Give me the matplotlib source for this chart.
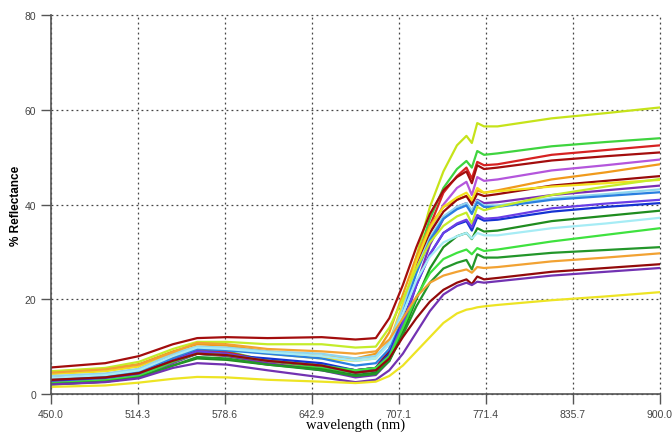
import matplotlib
matplotlib.use('Agg')
import matplotlib.pyplot as plt

# wavelengths (nm) at which the reflectance of each curve was read
wl = [450, 490, 515, 540, 558, 580, 610, 650, 675, 690,
      700, 710, 720, 730, 740, 750,
      757, 761, 765, 770, 780,
      820, 860, 900]

# % reflectance, one list per sample
r01 = [3.0, 3.6, 4.5, 7.0, 8.5, 8.0, 6.5, 5.5, 4.5, 5.0, 8.5, 17, 29, 39.5, 47, 52.5, 54.5, 53.0, 57.2, 56.5, 56.5, 58.2, 59.3, 60.5]
r02 = [2.5, 3.2, 4.2, 7.5, 9.5, 9.0, 7.0, 5.5, 4.5, 5.0, 9, 18, 28, 37, 43.5, 47.5, 49.2, 47.8, 51.3, 50.5, 50.8, 52.3, 53.2, 54.0]
r03 = [3.5, 4.2, 5.2, 8.0, 9.5, 8.8, 7.0, 6.0, 5.0, 5.5, 9.5, 18, 27, 35.5, 42.5, 46.0, 47.8, 45.5, 49.0, 48.3, 48.5, 50.5, 51.5, 52.5]
r04 = [5.6, 6.5, 8.0, 10.5, 11.8, 12.0, 11.8, 12.0, 11.5, 11.8, 16, 23, 31, 38, 43, 45.8, 47.0, 44.5, 48.3, 47.5, 47.8, 49.3, 50.2, 51.0]
r05 = [2.8, 3.4, 4.5, 7.0, 9.0, 8.5, 7.0, 6.0, 5.0, 5.5, 9, 17, 26, 34, 40, 43.5, 44.8, 42.0, 45.8, 45.0, 45.3, 47.2, 48.3, 49.5]
r06 = [4.7, 5.3, 6.3, 9.0, 10.5, 10.2, 9.0, 8.0, 7.5, 8.5, 13, 21, 29, 35.5, 39.5, 41.0, 41.8, 40.5, 43.0, 42.5, 43.0, 45.3, 46.8, 48.5]
r07 = [3.0, 3.5, 4.5, 7.5, 9.0, 8.5, 7.0, 6.0, 5.0, 5.5, 9, 17.5, 26.5, 34, 38.5, 41.0, 41.8, 40.0, 42.3, 41.8, 42.2, 44.0, 45.0, 46.0]
r08 = [4.2, 4.8, 5.8, 8.5, 10.0, 9.5, 8.5, 7.5, 7.0, 7.5, 11, 19, 28, 35, 39.5, 41.5, 42.5, 41.0, 43.5, 42.5, 42.8, 43.8, 44.5, 45.2]
r09 = [2.2, 2.8, 3.8, 6.5, 8.5, 8.0, 6.5, 5.0, 3.5, 4.0, 7, 14, 23, 31.5, 37, 39.5, 40.3, 38.5, 41.0, 40.3, 40.5, 42.0, 43.0, 44.0]
r10 = [3.8, 4.3, 5.3, 8.5, 10.0, 9.8, 9.0, 8.5, 7.5, 8.0, 11, 18, 26.5, 33, 37.5, 39.5, 40.3, 38.8, 40.8, 39.8, 39.8, 41.3, 42.2, 43.2]
r11 = [3.3, 3.8, 4.8, 7.5, 9.5, 9.2, 8.5, 7.5, 6.0, 6.5, 9.5, 17, 25.5, 32.5, 37, 39.0, 39.8, 38.0, 40.5, 39.5, 39.5, 41.0, 41.8, 42.6]
r12 = [4.8, 5.5, 6.8, 9.5, 11.0, 11.0, 10.5, 10.5, 9.8, 10.0, 14, 20, 26.5, 32, 35.5, 37.5, 38.3, 36.0, 39.5, 38.8, 39.5, 42.0, 43.8, 45.4]
r13 = [2.6, 3.2, 4.2, 7.0, 8.5, 8.2, 7.5, 6.5, 5.0, 5.5, 8.5, 15.5, 23, 29.5, 34, 35.8, 36.5, 34.5, 37.3, 36.6, 36.8, 38.5, 39.5, 40.3]
r14 = [2.4, 3.0, 4.0, 7.0, 9.0, 8.5, 7.0, 6.0, 4.5, 5.0, 8, 15, 23, 29.5, 34, 36.0, 36.8, 35.2, 37.8, 37.0, 37.2, 39.2, 40.2, 41.0]
r15 = [2.0, 2.6, 3.5, 6.0, 7.5, 7.2, 6.2, 5.2, 4.0, 4.5, 7, 13, 20, 26.5, 31, 33.3, 34.0, 32.7, 35.0, 34.3, 34.5, 36.5, 37.6, 38.7]
r16 = [3.4, 4.0, 5.0, 8.0, 9.8, 9.5, 8.8, 8.0, 7.0, 7.5, 10.5, 17, 24, 29, 32, 33.3, 34.0, 32.8, 34.0, 33.5, 33.5, 35.0, 36.0, 37.2]
r17 = [2.3, 2.9, 3.8, 6.8, 8.5, 8.2, 7.0, 6.0, 5.0, 5.5, 8, 14, 20.5, 25.5, 28.5, 29.8, 30.5, 29.5, 30.8, 30.2, 30.5, 32.2, 33.6, 35.0]
r18 = [2.1, 2.6, 3.5, 6.0, 7.8, 7.5, 6.2, 5.0, 3.8, 4.2, 7, 12.5, 18.5, 23.5, 26.5, 27.7, 28.3, 26.3, 29.5, 28.8, 28.8, 29.8, 30.4, 31.0]
r19 = [4.5, 5.2, 6.2, 8.8, 10.8, 10.5, 9.5, 9.0, 8.5, 9.0, 11.5, 16, 20.5, 23.5, 25.0, 25.8, 26.3, 25.6, 26.8, 26.6, 26.8, 28.0, 28.8, 29.7]
r20 = [3.0, 3.5, 4.4, 7.0, 8.5, 8.2, 7.0, 6.0, 4.5, 5.0, 7.5, 12, 16, 19.5, 22, 23.5, 24.2, 23.2, 24.8, 24.2, 24.5, 25.8, 26.6, 27.4]
r21 = [2.0, 2.5, 3.3, 5.5, 6.5, 6.2, 5.0, 3.5, 2.5, 3.0, 5, 8.5, 13, 17.5, 21, 22.8, 23.5, 23.0, 23.7, 23.5, 23.8, 25.0, 25.8, 26.6]
r22 = [1.5, 1.8, 2.4, 3.2, 3.6, 3.5, 3.0, 2.6, 2.3, 2.6, 3.8, 6, 9, 12, 15, 17.0, 17.8, 18.0, 18.3, 18.5, 18.8, 19.8, 20.6, 21.5]

curves = [r01, r02, r03, r04, r05, r06, r07, r08, r09, r10, r11,
          r12, r13, r14, r15, r16, r17, r18, r19, r20, r21, r22]
colors = ['#c6e31a', '#3fd43f', '#d62222', '#a30d0d', '#b456dc', '#f09a1c',
          '#980a0a', '#f2e01e', '#7b2fb5', '#8fd6ee', '#2a7fe0', '#c4ec2a',
          '#1432d2', '#6a3ee6', '#1f8c1f', '#a6ecf5', '#3fe23f', '#23962a',
          '#f2a233', '#920a0a', '#7232b2', '#ede424']

xticks = [450.0, 514.3, 578.6, 642.9, 707.1, 771.4, 835.7, 900.0]
yticks = [0, 20, 40, 60, 80]

fig = plt.figure(figsize=(6.72, 4.35), dpi=100)
ax = fig.add_axes([0.076, 0.092, 0.906, 0.871])

for r, c in zip(curves, colors):
    ax.plot(wl, r, color=c, lw=1.6)

ax.set_xlim(450, 900)
ax.set_ylim(0, 80)
ax.set_xticks(xticks)
ax.set_xticklabels(['%.1f' % t for t in xticks])
ax.set_yticks(yticks)

ax.grid(True, ls=(0, (1.5, 2.5)), color='#444444', lw=0.9)
for gl in ax.get_xgridlines() + ax.get_ygridlines():
    gl.set_clip_on(False)
for s in ['top', 'right']:
    ax.spines[s].set_visible(False)
for s in ['left', 'bottom']:
    ax.spines[s].set_color('#555555')
    ax.spines[s].set_linewidth(1.2)

ax.tick_params(direction='out', length=7, width=1, color='#555555',
               labelsize=7.5, labelcolor='#444444')
for lab in ax.get_xticklabels() + ax.get_yticklabels():
    lab.set_family('Liberation Sans')

ax.set_xlabel('wavelength (nm)', family='Liberation Serif', fontsize=10.5)
ax.xaxis.set_label_coords(0.5, -0.063)
ax.set_ylabel('% Reflectance', family='Liberation Sans', fontweight='bold',
              fontsize=8.5)
ax.yaxis.set_label_coords(-0.047, 0.5)

fig.savefig('out.png', dpi=100)
